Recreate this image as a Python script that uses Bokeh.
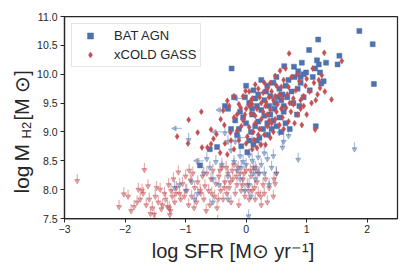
import math
from bokeh.plotting import figure
from bokeh.layouts import row
from bokeh.models import Label, Legend, LegendItem, FixedTicker
from bokeh.embed import file_html
from bokeh.resources import INLINE

# ---------------- data ----------------
bat_x = [1.87, 2.09, 2.11, 1.19, 1.04, 1.54, 1.51, 1.32, 1.17, 1.20, 1.14, 1.22, 0.92, 0.79, 0.63, -0.24,
         0.00, 1.28, 1.24, 0.99, 0.90, 0.86, 1.15, 0.84, -0.48, -0.76,
         0.12, 0.20, 0.35, 0.45, 0.55, 0.65, 0.75, 0.85, 0.95, 1.05, 0.50, 0.40, 0.30, 0.18, 0.25, 0.10,
         0.05, 0.38, 0.48, 0.58, 0.68, 0.78, 0.88, 0.62, 0.55, 0.45, 0.35, 0.28, 0.15, 0.08, 0.00, -0.05,
         -0.10, -0.18, -0.25, -0.15, 0.05, -0.08, 0.02, 0.12, 0.22, -0.30, -0.35, 0.65, 0.72, 0.58, 0.42,
         0.30, 0.20, 0.70, 0.60, 0.90, 0.33, 0.15, -0.02, 0.47, 0.80, 0.95, 1.10, 0.25, 0.52, 0.10, -0.20,
         0.40, 0.50, 0.62, 0.36, 0.18, -0.12, -0.60]
bat_y = [10.75, 10.52, 9.83, 10.60, 10.42, 10.32, 10.17, 10.20, 10.24, 10.17, 10.10, 10.03, 10.20, 10.13, 10.14, 10.10,
         9.80, 9.88, 9.84, 10.03, 9.95, 10.05, 9.10, 9.30, 8.74, 8.42,
         9.72, 9.65, 9.80, 9.85, 9.75, 9.80, 9.70, 9.75, 9.60, 9.72, 9.95, 9.62, 9.55, 9.45, 9.38, 9.30,
         9.50, 9.45, 9.50, 9.55, 9.60, 9.50, 9.45, 9.35, 9.25, 9.20, 9.15, 9.05, 9.10, 9.00, 9.15, 9.25,
         9.35, 9.20, 9.05, 8.95, 8.85, 8.75, 8.65, 8.78, 8.90, 9.40, 9.45, 9.15, 9.05, 9.00, 9.05,
         9.28, 9.18, 9.90, 9.65, 9.85, 9.70, 9.58, 9.60, 9.40, 9.95, 10.00, 9.95, 9.90, 9.60, 9.40, 9.60,
         9.30, 9.10, 9.45, 8.95, 8.85, 9.05, 8.70]

xcg_x = [0.71, 1.29, 1.58, 0.56, 0.48, 0.30, 0.62, 0.75, 0.88, 1.00, 1.12, 1.22, 1.25, 1.18, 1.05, 0.95,
         0.82, 0.68, 0.58, 0.42, 1.41, 0.90, 0.78, 1.08, 0.66, 0.74, 0.85, 1.14, 0.92, 0.60, 0.50, 0.45,
         0.38, 0.28, 0.20, 0.15, 0.05, 0.10, -0.05, -0.12, 0.00, 0.08, 0.18, 0.25, 0.32, 0.40, 0.48, 0.55,
         0.35, 0.25, 0.15, 0.05, -0.05, -0.15, -0.20, -0.31, -0.38, -0.36, -0.26, -0.20, -0.09, -0.15,
         -0.12, -0.20, -0.31, -0.43, -0.58, -0.64, -0.73, -0.80, -0.54, -0.49, -0.58, -0.74, -0.95, -1.14,
         -0.96, 0.13, 0.24, 0.32, 0.18, 0.07, -0.01, 0.30, 0.40, 0.45, 0.62, 0.70, 0.80, 0.52, 0.60, 0.35,
         0.12, 0.02, -0.08, 0.22, 0.28, 0.42, 0.55, 0.70, 0.98, 1.20, 0.85, 0.65, 0.40, 0.50, 0.90, 1.00,
         0.35, 0.22, 0.10, -0.02, -0.28, -0.42, -0.25, -0.35, 0.00, 0.10, 1.10, 0.78, 0.58, 0.48, 0.33,
         0.15, 0.05, 0.20, 0.38, 0.72, 0.95, 1.15, 1.30]
xcg_y = [10.36, 10.37, 10.23, 10.06, 9.97, 9.85, 9.90, 9.95, 9.88, 9.92, 9.85, 9.76, 9.98, 9.65, 9.70, 9.62,
         9.72, 9.65, 9.78, 9.70, 9.56, 9.55, 9.48, 9.50, 9.42, 9.35, 9.30, 9.04, 9.12, 9.25, 9.35, 9.55,
         9.60, 9.68, 9.75, 9.82, 9.70, 9.58, 9.62, 9.48, 9.40, 9.32, 9.40, 9.50, 9.45, 9.38, 9.22, 9.12,
         9.10, 9.22, 9.15, 9.08, 9.20, 9.30, 9.62, 9.54, 9.37, 9.12, 8.99, 9.25, 9.42, 9.02,
         8.85, 8.70, 8.61, 8.64, 8.79, 8.73, 8.73, 8.99, 8.88, 8.96, 9.04, 9.35, 9.21, 8.92,
         8.80, 8.86, 8.78, 8.78, 8.72, 9.53, 9.71, 8.95, 8.90, 9.00, 9.05, 9.18, 9.15, 9.48, 9.58, 9.30,
         9.00, 8.92, 9.10, 9.05, 9.35, 9.15, 9.65, 9.78, 9.80, 9.90, 10.00, 10.10, 9.85, 9.80, 9.40, 9.30,
         9.75, 9.60, 9.48, 9.30, 9.45, 9.22, 8.85, 8.80, 8.80, 8.70, 10.10, 9.58, 9.40, 9.62, 9.52,
         9.28, 9.45, 8.95, 9.20, 9.50, 9.45, 9.55, 9.70]

batl_x = [1.79, 0.86, 0.04, -0.47, -0.95, -0.35, -0.30, -0.25, -0.10, -0.05, 0.00, 0.05, 0.10, 0.15,
          0.20, 0.25, 0.30, 0.35, 0.42, 0.50, 0.60, 0.62, 0.55, 0.70, 0.45, -0.15, -0.20, -0.40, -0.50,
          -0.60, -0.70, -0.55, -0.45, -0.30, -0.10, 0.05, 0.15, 0.08, -0.02, -0.80, -0.85, -0.55, -0.30,
          0.30, 0.38, 0.20, -1.10, -1.18, -1.00, -0.90, -0.65, 0.25, -0.18, 0.10, 0.12, -0.08]
batl_y = [8.82, 8.64, 7.66, 7.57, 8.98, 9.10, 8.95, 8.80, 8.70, 8.60, 8.55, 8.72, 8.62, 8.50,
          8.68, 8.55, 8.75, 8.65, 8.50, 8.40, 8.85, 8.95, 9.10, 9.05, 8.70, 8.45, 8.60, 8.55, 8.60,
          8.50, 8.40, 8.30, 8.20, 8.35, 8.30, 8.20, 8.30, 8.00, 8.10, 8.05, 7.95, 7.90, 7.95,
          8.40, 8.20, 8.40, 8.20, 8.15, 8.10, 8.25, 8.65, 8.90, 8.95, 8.95, 8.40, 8.50]

batx_x = [-1.06, -0.33, -0.05, -0.70, -0.40, 0.00]
batx_y = [9.06, 9.38, 9.58, 8.50, 9.00, 8.90]

xcgl_x = [-2.79, -2.10, -2.02, -1.68, -1.85, -1.52, -1.72, -1.70, -1.65, -1.60, -1.55, -1.50, -1.45, -1.42,
          -1.38, -1.35, -1.30, -1.28, -1.25, -1.22, -1.20, -1.18, -1.15, -1.12, -1.10, -1.08, -1.05, -1.00,
          -0.98, -0.95, -0.92, -0.90, -0.88, -0.85, -0.82, -0.80, -0.78, -0.75, -0.72, -0.70, -0.68, -0.65,
          -0.62, -0.60, -0.58, -0.55, -0.52, -0.50, -0.48, -0.45, -0.42, -0.40, -0.38, -0.35, -0.32, -0.30,
          -0.28, -0.25, -0.22, -0.20, -0.18, -0.15, -0.12, -0.10, -0.08, -0.05, -0.02, 0.00, 0.02, 0.05,
          0.08, 0.10, 0.12, 0.15, 0.18, 0.20, 0.22, 0.25, 0.28, 0.32, 0.35, 0.38, 0.45, 0.48, 0.50, -1.95,
          -1.90, -1.80, -1.78, -1.75, -1.62, -1.58, -1.48, -1.40, -1.33, -1.27, -1.24, -1.16, -1.02, -0.94,
          -0.86, -0.76, -0.66, -0.57, -0.46, -0.36, -0.26, -0.16, -0.06, 0.04, 0.14, 0.24, 0.30, 0.46,
          -0.43, -0.33, -0.23, -0.13, -0.03, 0.07, 0.17, -1.26, -1.51]
xcgl_y = [8.27, 7.82, 8.04, 8.46, 7.82, 7.69, 8.10, 8.05, 7.85, 7.95, 7.80, 8.00, 7.90, 8.12,
          7.85, 8.05, 7.82, 8.20, 7.75, 8.00, 8.30, 7.90, 8.15, 8.42, 8.05, 7.95, 8.22, 8.35,
          8.10, 7.85, 8.28, 8.00, 8.40, 8.15, 7.90, 8.25, 8.55, 8.05, 8.35, 7.95, 8.18, 8.40,
          8.10, 7.85, 8.30, 8.45, 8.00, 8.22, 7.80, 8.35, 8.10, 8.50, 7.95, 8.25, 8.05, 8.40,
          8.15, 7.90, 8.30, 8.55, 8.05, 8.20, 7.85, 8.40, 8.10, 8.30, 8.00, 8.45, 8.20, 7.95,
          8.35, 8.10, 8.50, 7.95, 8.25, 8.05, 8.40, 7.85, 8.20, 8.30, 7.90, 8.15, 8.00, 8.22, 8.40, 8.00,
          7.75, 7.90, 8.12, 7.95, 8.18, 7.70, 8.15, 7.78, 7.95, 7.80, 8.10, 8.05, 8.00, 8.45,
          7.80, 8.10, 7.75, 8.05, 7.95, 8.15, 8.25, 8.35, 8.20, 8.10, 8.15, 8.00, 8.05, 8.30,
          8.45, 8.50, 8.45, 8.50, 8.40, 8.45, 8.45, 7.68, 7.60]

x_ticks = [-3, -2, -1, 0, 1, 2]
y_ticks = [7.5, 8.0, 8.5, 9.0, 9.5, 10.0, 10.5, 11.0]

BLUE = "#4c72b0"
RED = "#c44e52"
DARK = "#262626"
FONT = "Liberation Sans"
ARROW = 0.12
LEFT_W = 34

p = figure(width=409 - LEFT_W, height=273, x_range=(-3, 2.5), y_range=(7.5, 11.0),
           output_backend="svg", toolbar_location=None,
           min_border_left=64 - LEFT_W, min_border_right=12, min_border_top=16, min_border_bottom=55)
p.xgrid.visible = False
p.ygrid.visible = False
p.outline_line_color = DARK
p.outline_line_width = 1.25
p.background_fill_color = "white"
p.border_fill_color = "white"

# upper limits (xCOLD GASS) - light red down arrows
p.segment(x0=xcgl_x, y0=xcgl_y, x1=xcgl_x, y1=[v - ARROW for v in xcgl_y],
          line_color=RED, line_alpha=0.45, line_width=1.2)
p.scatter(x=xcgl_x, y=[v - ARROW for v in xcgl_y], marker="inverted_triangle", size=5,
          fill_color=RED, line_color=RED, fill_alpha=0.45, line_alpha=0.45)

# upper limits (BAT) - light blue down arrows
p.segment(x0=batl_x, y0=batl_y, x1=batl_x, y1=[v - ARROW for v in batl_y],
          line_color=BLUE, line_alpha=0.45, line_width=1.2)
p.scatter(x=batl_x, y=[v - ARROW for v in batl_y], marker="inverted_triangle", size=5,
          fill_color=BLUE, line_color=BLUE, fill_alpha=0.45, line_alpha=0.45)
# BAT limits in SFR - left arrows
p.segment(x0=batx_x, y0=batx_y, x1=[v - ARROW for v in batx_x], y1=batx_y,
          line_color=BLUE, line_alpha=0.45, line_width=1.2)
p.scatter(x=[v - ARROW for v in batx_x], y=batx_y, marker="triangle", angle=math.pi / 2, size=5,
          fill_color=BLUE, line_color=BLUE, fill_alpha=0.45, line_alpha=0.45)

bat_r = p.scatter(x=bat_x, y=bat_y, marker="square", size=5, fill_color=BLUE,
                  line_color=BLUE, line_width=0.5)
xcg_r = p.scatter(x=xcg_x, y=xcg_y, marker="diamond", size=6, fill_color=RED,
                  line_color=RED, line_width=0.5)

legend = Legend(items=[LegendItem(label="BAT AGN", renderers=[bat_r]),
                       LegendItem(label="xCOLD GASS", renderers=[xcg_r])],
                location="top_left", margin=7, padding=4, spacing=4,
                glyph_width=28, glyph_height=15, label_standoff=10,
                label_text_font=FONT, label_text_font_size="13px", label_text_color=DARK,
                border_line_color="#cccccc", border_line_width=1,
                background_fill_color="white", background_fill_alpha=0.8)
p.add_layout(legend)

for ax in (p.xaxis[0], p.yaxis[0]):
    ax.axis_line_color = DARK
    ax.axis_line_width = 1.25
    ax.major_tick_line_color = DARK
    ax.major_tick_line_width = 1.0
    ax.major_tick_out = 4
    ax.major_tick_in = 0
    ax.minor_tick_line_color = None
    ax.major_label_text_font = FONT
    ax.major_label_text_font_size = "10.5px"
    ax.major_label_text_color = DARK

p.xaxis.ticker = FixedTicker(ticks=x_ticks)
p.xaxis.major_label_overrides = {t: ("\u2212" + str(-t) if t < 0 else str(t)) for t in x_ticks}
p.xaxis.major_label_standoff = 2
p.xaxis.axis_label = "log SFR [M\u2299 yr\u207b\u00b9]"
p.xaxis.axis_label_text_font = FONT
p.xaxis.axis_label_text_font_size = "20px"
p.xaxis.axis_label_text_font_style = "normal"
p.xaxis.axis_label_text_color = DARK
p.xaxis.axis_label_standoff = 4

p.yaxis.ticker = FixedTicker(ticks=y_ticks)
p.yaxis.major_label_overrides = {t: f"{t:.1f}" for t in y_ticks}
p.yaxis.major_label_standoff = 3

# narrow strip on the left that holds the y-axis title (with subscript H2);
# positions are pixels measured from the strip's bottom edge
t = figure(frame_width=LEFT_W, frame_height=273, x_range=(0, LEFT_W), y_range=(0, 273),
           x_axis_type=None, y_axis_type=None, title=None,
           output_backend="svg", toolbar_location=None,
           min_border=0, min_border_left=0, min_border_right=0, min_border_top=0, min_border_bottom=0)
t.grid.visible = False
t.outline_line_color = None
t.border_fill_color = "white"
lab_kw = dict(angle=math.pi / 2, text_font=FONT, text_color=DARK,
              text_align="left", text_baseline="middle",
              x_units="screen", y_units="screen")
t.add_layout(Label(x=21, y=96, text="log", text_font_size="21px", **lab_kw))
t.add_layout(Label(x=21, y=128, text="M", text_font_size="21px", **lab_kw))
t.add_layout(Label(x=26, y=151, text="H2", text_font_size="13px", **lab_kw))
t.add_layout(Label(x=21, y=169, text="[M \u2299]", text_font_size="20px", **lab_kw))

layout = row(t, p, spacing=0)
open("out.html", "w").write(file_html(layout, INLINE))
